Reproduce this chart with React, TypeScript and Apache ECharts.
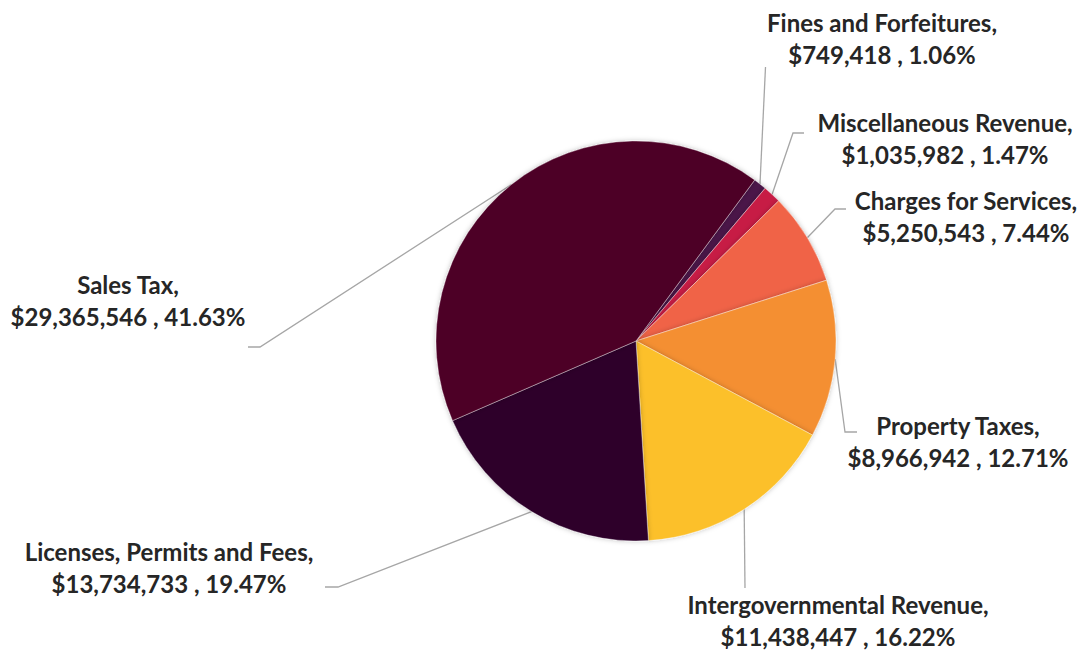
import React, { useEffect, useRef } from "react";
import * as echarts from "echarts";

const categories = [
  "Fines and Forfeitures",
  "Miscellaneous Revenue",
  "Charges for Services",
  "Property Taxes",
  "Intergovernmental Revenue",
  "Licenses, Permits and Fees",
  "Sales Tax",
];
const values = [749418, 1035982, 5250543, 8966942, 11438447, 13734733, 29365546];
const colors = ["#4b1548", "#c71f45", "#f06446", "#f48f33", "#fcc02a", "#2d002b", "#4d0026"];

// label placement (centre of the two-line label block) and leader-line bend points
const labelCenters: number[][] = [
  [882, 38],
  [945, 138],
  [966, 216],
  [958, 441],
  [838, 620],
  [169, 567],
  [128, 300],
];
const leaderBends: number[][][] = [
  [[765.5, 67]],
  [[793, 133], [804, 133]],
  [[835, 209], [846, 209]],
  [[845, 432], [857, 432]],
  [[745, 588]],
  [[338, 587], [325, 587]],
  [[260, 347], [248, 347]],
];

const fmtMoney = (v: number) => "$" + v.toLocaleString("en-US");

export default function App() {
  const ref = useRef<HTMLDivElement>(null);
  useEffect(() => {
    if (!ref.current) return;
    const chart = echarts.init(ref.current, null, { renderer: "svg" });
    const total = values.reduce((a, b) => a + b, 0);
    const startAngle = 53.6;
    const mid: number[] = [];
    let acc = 0;
    values.forEach((v) => {
      const a0 = startAngle - (acc / total) * 360;
      acc += v;
      const a1 = startAngle - (acc / total) * 360;
      mid.push(((a0 + a1) / 2) * (Math.PI / 180));
    });
    const cx = 636,
      cy = 341,
      r = 200;
    chart.setOption({
      animation: false,
      backgroundColor: "#ffffff",
      series: [
        {
          type: "pie",
          center: [cx, cy],
          radius: r,
          startAngle,
          clockwise: true,
          avoidLabelOverlap: false,
          data: categories.map((name, i) => ({
            name,
            value: values[i],
            itemStyle: { color: colors[i] },
          })),
          itemStyle: {
            borderColor: "rgba(255,255,255,0.6)",
            borderWidth: 0.6,
            shadowBlur: 5,
            shadowColor: "rgba(0,0,0,0.25)",
          },
          label: {
            show: true,
            position: "outside",
            formatter: (p: any) => `${p.name},\n${fmtMoney(p.value)} , ${p.percent.toFixed(2)}%`,
            fontFamily: "Lato",
            fontWeight: "bold",
            fontSize: 24,
            lineHeight: 32,
            color: "#262626",
            align: "center",
          },
          labelLine: {
            show: true,
            length: 10,
            length2: 10,
            lineStyle: { color: "#a6a6a6", width: 1.3 },
          },
          labelLayout: (params: any) => {
            const i = params.dataIndex;
            const a = mid[i];
            const start = [cx + Math.cos(a) * r, cy - Math.sin(a) * r];
            return {
              x: labelCenters[i][0],
              y: labelCenters[i][1],
              align: "center",
              verticalAlign: "middle",
              labelLinePoints: [start, ...leaderBends[i]],
            };
          },
          emphasis: { disabled: true },
        },
      ],
    });
    return () => chart.dispose();
  }, []);
  return (
    <div
      ref={ref}
      style={{ position: "absolute", left: 0, top: 0, width: 1082, height: 650 }}
    />
  );
}
